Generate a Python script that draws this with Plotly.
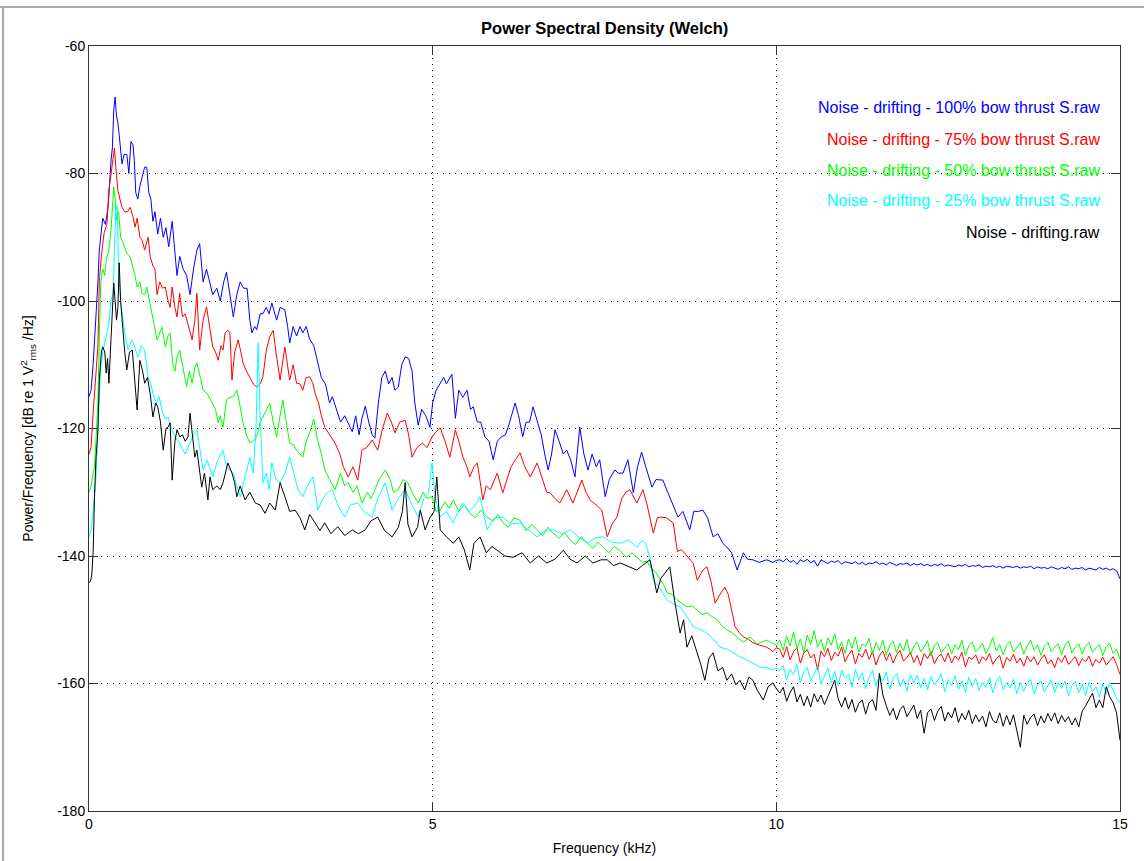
import plotly.graph_objects as go

# Welch PSD estimates below 10 kHz, (frequency kHz, dB re 1 V^2_rms/Hz)
psd_100 = [
    (0.00, -115), (0.03, -114), (0.06, -110), (0.10, -103), (0.13, -97), (0.15, -92), (0.18, -89),
    (0.20, -87), (0.24, -88), (0.28, -85), (0.32, -78), (0.34, -76), (0.36, -70), (0.38, -68),
    (0.40, -71), (0.42, -72), (0.44, -74), (0.46, -76), (0.48, -78.5), (0.51, -77), (0.55, -77),
    (0.58, -80), (0.61, -75), (0.64, -75.5), (0.66, -78), (0.68, -83), (0.71, -84), (0.74, -82),
    (0.78, -80), (0.81, -79), (0.84, -79), (0.87, -83), (0.90, -84), (0.93, -87.5), (0.96, -86),
    (1.00, -89.5), (1.04, -87), (1.08, -90), (1.12, -88.5), (1.16, -91.5), (1.21, -87.5), (1.25, -92),
    (1.28, -96), (1.32, -93), (1.37, -95), (1.42, -96), (1.47, -99), (1.52, -95), (1.57, -92),
    (1.61, -91), (1.66, -97), (1.71, -95), (1.76, -97), (1.80, -99), (1.86, -98), (1.91, -100),
    (1.96, -97), (2.00, -95.5), (2.05, -99), (2.10, -102.5), (2.15, -99), (2.20, -97), (2.25, -98),
    (2.30, -98), (2.34, -103), (2.37, -105), (2.41, -104), (2.44, -104.5), (2.49, -102), (2.53, -102),
    (2.58, -101), (2.62, -102), (2.66, -100.3), (2.70, -102), (2.73, -103), (2.78, -101), (2.85, -101.4),
    (2.89, -104), (2.92, -106.6), (2.97, -104), (3.02, -105.5), (3.07, -104), (3.11, -105), (3.16, -104),
    (3.21, -106), (3.27, -107), (3.33, -109.5), (3.38, -112), (3.44, -113), (3.50, -116), (3.54, -115),
    (3.60, -117), (3.66, -119), (3.72, -118), (3.78, -119.5), (3.83, -120.5), (3.88, -118), (3.93, -121),
    (3.97, -118.5), (4.02, -116.5), (4.07, -119), (4.12, -121), (4.16, -121.5), (4.21, -116), (4.26, -112),
    (4.31, -111), (4.36, -113), (4.41, -112), (4.45, -114), (4.50, -113.5), (4.55, -110), (4.60, -108.8),
    (4.65, -109), (4.70, -111), (4.74, -116), (4.79, -119.5), (4.84, -117), (4.90, -118), (4.96, -119.8),
    (5.00, -116), (5.05, -114), (5.11, -113), (5.16, -112), (5.20, -113), (5.25, -112), (5.28, -111.5),
    (5.33, -118.4), (5.38, -114), (5.44, -115.1), (5.50, -114), (5.55, -117), (5.59, -116.6), (5.65, -119),
    (5.70, -119), (5.76, -121.3), (5.82, -122), (5.88, -124.9), (5.94, -122), (6.00, -121.3), (6.06, -121),
    (6.12, -119), (6.20, -116), (6.25, -118), (6.31, -121.3), (6.36, -119), (6.41, -119), (6.46, -116.6),
    (6.52, -119), (6.58, -121), (6.63, -124), (6.68, -126.5), (6.73, -124), (6.78, -120.2), (6.84, -122),
    (6.90, -124), (6.95, -123.4), (7.01, -125), (7.07, -127.6), (7.14, -119.8), (7.20, -124), (7.26, -126.5),
    (7.32, -124), (7.38, -126), (7.43, -124.9), (7.51, -130.7), (7.57, -128), (7.65, -126.5), (7.70, -127),
    (7.77, -127), (7.84, -124.9), (7.92, -130.1), (7.98, -126), (8.04, -123.7), (8.10, -126), (8.19, -129.2),
    (8.25, -128), (8.35, -128.1), (8.42, -130), (8.50, -132), (8.57, -133.9), (8.64, -133), (8.74, -135.9),
    (8.80, -133), (8.87, -133), (8.93, -132.8), (9.00, -134), (9.08, -137), (9.15, -136.5), (9.22, -138),
    (9.28, -138.6), (9.35, -139.5), (9.43, -142.2), (9.47, -141), (9.52, -139.5), (9.58, -140.5),
    (9.66, -140.6), (9.75, -141), (9.86, -140.6), (9.95, -141), (10.0, -140.7),
]

psd_75 = [
    (0.00, -124), (0.03, -123), (0.06, -117.6), (0.10, -112), (0.13, -107), (0.15, -97), (0.18, -93),
    (0.22, -89.3), (0.26, -88), (0.29, -82.6), (0.32, -80), (0.35, -76.8), (0.37, -76), (0.39, -79),
    (0.42, -82.6), (0.45, -84), (0.48, -85.3), (0.52, -86), (0.56, -86), (0.60, -85.3), (0.64, -86.8),
    (0.67, -88.4), (0.70, -87), (0.74, -90), (0.77, -90.4), (0.81, -92), (0.86, -90), (0.89, -93),
    (0.93, -94.5), (0.96, -95), (0.99, -99), (1.03, -97), (1.07, -98), (1.11, -97.8), (1.15, -100),
    (1.18, -101), (1.21, -97.8), (1.25, -101), (1.28, -102.5), (1.32, -98.8), (1.36, -102.5), (1.40, -102),
    (1.45, -104), (1.50, -106.1), (1.54, -103), (1.57, -98.8), (1.61, -107.7), (1.66, -103), (1.71, -100.9),
    (1.75, -104), (1.80, -107.2), (1.84, -108), (1.88, -109.3), (1.92, -107), (1.95, -107.7), (1.98, -105),
    (2.02, -104.6), (2.05, -105), (2.08, -112.4), (2.12, -108), (2.17, -106.1), (2.21, -108), (2.24, -109.7),
    (2.29, -111), (2.34, -111.9), (2.39, -113), (2.44, -113.5), (2.49, -113), (2.53, -111.9), (2.58, -107.7),
    (2.63, -105.6), (2.68, -104.6), (2.72, -108), (2.78, -112.4), (2.85, -107.2), (2.89, -110), (2.92, -112.4),
    (2.97, -110), (3.02, -112.9), (3.07, -113), (3.11, -114), (3.16, -112), (3.21, -111.9), (3.26, -113),
    (3.29, -114.5), (3.34, -116), (3.38, -118), (3.43, -119.8), (3.50, -121), (3.58, -122.3), (3.65, -124),
    (3.70, -126), (3.77, -127.6), (3.84, -126), (3.91, -128.1), (3.97, -123.4), (4.04, -123), (4.12, -121.8),
    (4.20, -123.4), (4.27, -120), (4.34, -117.6), (4.40, -119), (4.45, -120.7), (4.52, -119), (4.60, -118.7),
    (4.65, -121), (4.70, -124.5), (4.77, -123), (4.85, -122.3), (4.92, -123), (4.99, -121.3), (5.05, -120.5),
    (5.11, -119.9), (5.18, -122), (5.25, -124.5), (5.33, -120.2), (5.38, -122), (5.44, -124.5), (5.50, -126),
    (5.54, -127.6), (5.60, -126), (5.65, -125.4), (5.73, -131.2), (5.78, -129), (5.84, -129.6), (5.94, -127),
    (6.02, -130.1), (6.08, -128), (6.14, -126), (6.20, -125), (6.27, -123.8), (6.34, -126), (6.42, -127.6),
    (6.52, -125.4), (6.60, -128), (6.66, -130), (6.71, -130.1), (6.78, -131), (6.85, -131.7), (6.95, -129.6),
    (7.04, -131.7), (7.10, -130), (7.17, -128.1), (7.23, -130), (7.29, -131.2), (7.38, -132), (7.46, -132.8),
    (7.54, -137), (7.61, -135), (7.68, -133.9), (7.75, -131), (7.81, -130), (7.87, -129.6), (7.97, -131.7),
    (8.06, -129.6), (8.12, -132), (8.16, -133.9), (8.21, -136.4), (8.27, -134), (8.31, -133.9), (8.40, -134),
    (8.50, -134.8), (8.56, -139.3), (8.62, -139), (8.70, -140), (8.79, -141.1), (8.85, -143.8), (8.93, -142.2),
    (8.99, -141.7), (9.05, -144), (9.11, -147.4), (9.18, -146), (9.25, -144.9), (9.30, -146), (9.35, -148.5),
    (9.40, -151.1), (9.46, -152), (9.52, -152.7), (9.59, -153), (9.66, -153.6), (9.76, -154), (9.86, -154.3),
    (9.95, -155), (10.0, -154.4),
]

psd_50 = [
    (0.00, -130), (0.03, -129), (0.06, -127), (0.08, -126), (0.11, -120), (0.13, -115.5), (0.15, -106),
    (0.17, -97.2), (0.20, -95), (0.23, -96), (0.25, -93.6), (0.29, -92), (0.32, -88.9), (0.34, -86),
    (0.36, -82.1), (0.38, -84), (0.40, -87.3), (0.43, -86), (0.46, -90), (0.50, -91), (0.55, -92.5),
    (0.60, -93.1), (0.64, -94.7), (0.67, -96), (0.70, -97.8), (0.74, -97), (0.77, -98.8), (0.81, -99),
    (0.84, -97.8), (0.88, -100), (0.92, -102), (0.96, -104), (0.99, -106.1), (1.03, -105), (1.06, -104.1),
    (1.11, -107.2), (1.15, -105.5), (1.18, -105), (1.22, -110), (1.25, -111), (1.28, -108.8), (1.32, -107.7),
    (1.36, -110), (1.42, -113.5), (1.46, -111), (1.50, -112.9), (1.54, -110.5), (1.57, -109.7), (1.62, -112),
    (1.66, -114), (1.72, -114.5), (1.79, -116), (1.84, -117), (1.88, -119.1), (1.91, -118), (1.95, -119.8),
    (2.00, -115.5), (2.05, -115.1), (2.10, -115), (2.15, -114), (2.19, -116), (2.24, -119.1), (2.29, -121),
    (2.34, -122.3), (2.39, -122), (2.44, -121.3), (2.49, -119), (2.53, -118.2), (2.58, -117), (2.63, -116),
    (2.68, -119), (2.73, -121.3), (2.78, -118), (2.82, -115.5), (2.87, -119), (2.92, -122.3), (2.97, -122.5),
    (3.02, -123.4), (3.07, -124), (3.11, -124.5), (3.16, -122), (3.21, -120.7), (3.27, -118.5), (3.32, -121.5),
    (3.38, -124), (3.43, -126.5), (3.50, -128), (3.58, -129.6), (3.66, -127), (3.72, -129), (3.77, -128.5),
    (3.84, -130), (3.90, -129), (3.97, -131.7), (4.05, -130), (4.10, -131), (4.16, -129.6), (4.22, -128),
    (4.31, -126.5), (4.38, -128), (4.43, -130), (4.50, -129.6), (4.57, -128), (4.64, -128.5), (4.70, -130),
    (4.79, -131.7), (4.86, -130), (4.92, -131), (4.99, -130.7), (5.05, -133), (5.11, -132.8), (5.18, -131.5),
    (5.24, -132.5), (5.30, -131.2), (5.38, -133), (5.46, -132), (5.54, -133.3), (5.62, -134), (5.70, -132.8),
    (5.79, -133.9), (5.88, -134.5), (5.95, -133.5), (6.02, -134.8), (6.10, -135.5), (6.18, -134), (6.27, -134.4),
    (6.36, -136), (6.44, -135), (6.52, -135.9), (6.60, -136.8), (6.68, -135.5), (6.75, -136.4), (6.84, -137.2),
    (6.92, -136.3), (7.00, -137.5), (7.08, -138.2), (7.16, -137), (7.25, -138), (7.33, -138.8), (7.40, -137.8),
    (7.48, -138.6), (7.56, -139.5), (7.64, -138.5), (7.73, -139.2), (7.82, -140.2), (7.90, -139.5),
    (7.97, -140.2), (8.05, -141), (8.12, -140.8), (8.16, -141.7), (8.24, -142.5), (8.31, -143.8),
    (8.36, -144.5), (8.41, -145.8), (8.48, -146), (8.56, -146.9), (8.63, -147.5), (8.70, -148),
    (8.78, -147.8), (8.85, -148.5), (8.92, -149.2), (8.99, -148.9), (9.06, -149.5), (9.14, -150),
    (9.21, -151), (9.28, -151.6), (9.35, -152), (9.43, -152.7), (9.52, -153.5), (9.62, -152.7),
    (9.72, -153.8), (9.86, -153.2), (10.0, -154),
]

psd_25 = [
    (0.00, -137), (0.03, -136), (0.06, -133), (0.10, -128), (0.13, -120), (0.17, -110.8), (0.20, -108),
    (0.24, -106), (0.29, -103.5), (0.32, -100), (0.35, -98.8), (0.37, -92), (0.39, -86), (0.41, -85),
    (0.43, -95), (0.46, -100), (0.49, -102.5), (0.52, -105), (0.57, -107.7), (0.62, -106.1), (0.66, -107),
    (0.71, -108.8), (0.76, -107), (0.81, -107.7), (0.86, -111.9), (0.90, -113), (0.93, -114.5), (0.98, -116),
    (1.02, -115), (1.06, -117.1), (1.11, -118.5), (1.15, -118.2), (1.20, -120), (1.25, -121.3), (1.30, -122),
    (1.35, -123), (1.40, -124), (1.47, -122.3), (1.52, -121), (1.57, -120.2), (1.62, -124), (1.66, -126.5),
    (1.72, -125), (1.80, -127.6), (1.87, -125), (1.95, -123.4), (2.00, -126), (2.05, -126.5), (2.10, -127),
    (2.15, -129), (2.20, -130.7), (2.26, -128), (2.34, -124.5), (2.39, -127), (2.43, -120), (2.46, -106.6),
    (2.49, -118), (2.53, -128.5), (2.58, -127), (2.62, -129.6), (2.66, -125.4), (2.72, -128), (2.78, -128.5),
    (2.85, -127), (2.92, -124.5), (2.98, -127), (3.04, -129.6), (3.11, -130.7), (3.18, -129), (3.26, -127.6),
    (3.33, -132.8), (3.40, -131), (3.47, -130), (3.54, -129.6), (3.62, -132), (3.72, -133.9), (3.80, -132),
    (3.91, -131.7), (4.00, -133), (4.12, -133.9), (4.20, -131), (4.31, -128.5), (4.41, -132.8), (4.50, -131),
    (4.60, -129.6), (4.70, -132), (4.79, -133.9), (4.87, -131), (4.94, -130), (4.99, -125.4), (5.04, -131),
    (5.11, -133.9), (5.20, -133), (5.30, -134.8), (5.37, -133), (5.44, -131.7), (5.53, -133), (5.62, -132),
    (5.69, -130.7), (5.79, -135.9), (5.90, -134), (6.02, -133.9), (6.14, -135), (6.27, -134.8), (6.40, -136),
    (6.52, -137), (6.64, -136), (6.75, -135.9), (6.88, -136.5), (7.00, -135.9), (7.12, -137), (7.25, -138),
    (7.36, -137.2), (7.48, -137), (7.60, -137.8), (7.73, -138), (7.85, -137.5), (7.97, -138.6), (8.05, -137.5),
    (8.10, -138), (8.16, -140.2), (8.21, -143.8), (8.30, -145), (8.41, -146.9), (8.50, -147.5), (8.60, -148),
    (8.70, -149.5), (8.79, -151.1), (8.89, -151.5), (8.99, -152.1), (9.08, -153), (9.18, -154.3),
    (9.28, -154.6), (9.37, -155.2), (9.47, -155.8), (9.57, -156.3), (9.66, -156.8), (9.76, -157.4),
    (9.85, -157.5), (9.95, -157.9), (10.0, -157.6),
]

psd_ref = [
    (0.00, -144.2), (0.02, -144), (0.04, -143), (0.06, -139.5), (0.08, -130.7), (0.10, -125), (0.13, -120.2),
    (0.15, -112.4), (0.18, -108), (0.20, -107.2), (0.23, -108), (0.25, -111.3), (0.27, -109), (0.29, -112.9),
    (0.32, -106), (0.34, -102), (0.36, -97.2), (0.38, -100), (0.40, -103), (0.42, -101), (0.44, -94),
    (0.46, -100), (0.49, -104.1), (0.52, -108), (0.55, -110.8), (0.59, -108), (0.63, -107.7), (0.66, -112),
    (0.70, -117.1), (0.74, -109.3), (0.78, -111), (0.81, -112.9), (0.85, -112), (0.89, -114.5), (0.93, -118.2),
    (0.97, -116), (1.00, -116.6), (1.04, -119), (1.08, -123.4), (1.12, -120), (1.15, -119.8), (1.18, -119.1),
    (1.21, -128.1), (1.25, -122), (1.28, -120.2), (1.32, -121.3), (1.36, -121), (1.40, -122), (1.44, -121.3),
    (1.47, -117.6), (1.50, -121), (1.54, -124.5), (1.57, -123.4), (1.61, -127), (1.64, -129.2), (1.68, -127),
    (1.73, -131.2), (1.76, -127.6), (1.80, -129.6), (1.86, -129), (1.91, -129.6), (1.95, -128.5),
    (2.02, -125.4), (2.08, -127), (2.12, -128.5), (2.15, -130.7), (2.20, -129), (2.27, -131.2), (2.34, -130),
    (2.42, -131.7), (2.49, -132), (2.56, -133.3), (2.63, -131.7), (2.71, -132.8), (2.78, -128.5),
    (2.85, -130.7), (2.92, -133), (3.00, -132.8), (3.07, -134), (3.14, -135.9), (3.21, -133.5),
    (3.29, -134.8), (3.36, -136), (3.43, -134.8), (3.52, -136.5), (3.62, -135.4), (3.72, -136.8),
    (3.83, -135.9), (3.92, -136.5), (4.02, -135.9), (4.10, -134.5), (4.20, -133.9), (4.30, -136),
    (4.41, -137), (4.50, -135.5), (4.56, -133), (4.60, -128.5), (4.64, -135), (4.70, -137), (4.78, -135.5),
    (4.82, -132.8), (4.89, -135.9), (4.96, -134), (5.02, -133), (5.06, -127.6), (5.11, -135.9), (5.20, -137),
    (5.30, -138), (5.38, -137), (5.46, -139), (5.54, -142.2), (5.60, -138), (5.69, -137), (5.78, -139.5),
    (5.86, -138.5), (5.94, -139.1), (6.05, -140), (6.17, -140.2), (6.30, -139.5), (6.42, -141.1),
    (6.54, -140), (6.66, -141.1), (6.78, -140.5), (6.90, -139.1), (7.00, -140.5), (7.10, -141.1),
    (7.22, -140), (7.33, -141.1), (7.45, -140.6), (7.54, -140.6), (7.63, -141.5), (7.73, -141.1),
    (7.85, -141.7), (7.97, -142.2), (8.05, -141.5), (8.16, -140.6), (8.21, -143), (8.26, -145.8),
    (8.32, -143.5), (8.40, -142.5), (8.45, -141.7), (8.52, -147), (8.60, -152.1), (8.65, -150),
    (8.70, -154.3), (8.77, -152.5), (8.85, -155.2), (8.90, -157), (8.96, -159.5), (9.02, -156),
    (9.08, -155.2), (9.15, -158), (9.22, -157.5), (9.28, -159.5), (9.35, -158.5), (9.41, -160.2),
    (9.47, -159.5), (9.54, -161), (9.60, -159), (9.66, -159.5), (9.72, -161), (9.81, -162.6),
    (9.88, -160.5), (9.95, -159.9), (10.0, -160.8),
]

# 10.05 .. 15.00 kHz in 0.05 kHz bins: flat noise floor of each recording
tail_freq = [round(10.0 + 0.05 * k, 2) for k in range(1, 101)]

tail_100 = [
    -140.6, -140.9, -140.4, -141.0, -140.7, -141.3, -140.6, -140.9, -140.5, -141.1,
    -140.7, -141.6, -140.6, -140.9, -141.2, -140.8, -141.0, -140.7, -141.3, -140.9,
    -141.0, -141.2, -140.9, -141.3, -141.0, -141.4, -141.1, -141.2, -140.9, -141.3,
    -141.1, -141.4, -141.0, -141.3, -141.5, -141.2, -141.3, -141.1, -141.5, -141.2,
    -141.4, -141.2, -141.5, -141.3, -141.6, -141.3, -141.5, -141.2, -141.6, -141.4,
    -141.5, -141.7, -141.4, -141.6, -141.3, -141.7, -141.5, -141.6, -141.4, -141.8,
    -141.6, -141.7, -141.5, -141.8, -141.6, -141.9, -141.6, -141.7, -141.8, -141.6,
    -141.9, -141.7, -141.8, -141.6, -142.0, -141.7, -141.9, -141.8, -142.0, -141.7,
    -141.9, -142.1, -141.8, -142.0, -141.7, -142.1, -141.9, -142.0, -141.8, -142.2,
    -141.9, -142.0, -142.2, -141.8, -142.1, -141.9, -142.2, -142.0, -142.3, -143.6,
]

tail_75 = [
    -154.6, -155.9, -154.2, -156.3, -155.0, -154.4, -156.8, -155.2, -154.7, -156.0,
    -155.4, -157.9, -154.9, -155.8, -154.5, -156.4, -155.1, -155.7, -154.3, -156.6,
    -155.5, -154.8, -156.9, -155.3, -155.9, -154.6, -156.2, -155.0, -157.1, -155.6,
    -154.9, -156.4, -155.2, -156.8, -155.5, -154.8, -156.5, -155.9, -155.1, -156.7,
    -155.6, -157.2, -155.3, -156.1, -155.0, -156.9, -155.8, -155.4, -156.6, -155.2,
    -156.8, -155.7, -156.3, -155.1, -157.4, -155.9, -156.2, -155.5, -156.9, -155.8,
    -156.4, -155.3, -157.0, -156.1, -155.6, -157.6, -155.9, -156.5, -155.4, -156.8,
    -156.0, -157.3, -155.7, -156.6, -155.8, -157.1, -156.2, -155.5, -156.9, -156.3,
    -157.5, -155.9, -156.7, -155.6, -157.0, -156.4, -155.8, -157.2, -156.1, -156.6,
    -155.7, -157.3, -156.2, -156.8, -155.9, -157.1, -156.4, -155.8, -157.0, -158.6,
]

tail_50 = [
    -153.2, -154.8, -152.6, -154.1, -151.9, -154.6, -153.0, -155.2, -152.4, -153.9,
    -151.7, -154.3, -153.1, -155.0, -152.8, -154.0, -152.2, -154.7, -153.5, -155.3,
    -153.0, -154.5, -152.7, -155.1, -153.8, -154.2, -152.9, -155.4, -153.6, -154.8,
    -153.2, -155.6, -154.0, -153.4, -155.2, -153.7, -154.9, -153.1, -155.5, -154.2,
    -153.5, -155.0, -154.3, -153.3, -155.7, -154.0, -153.6, -155.2, -154.4, -153.8,
    -155.4, -153.9, -154.7, -153.2, -155.6, -154.1, -153.5, -155.0, -154.5, -153.7,
    -155.3, -154.2, -152.8, -154.9, -153.9, -155.5, -154.0, -153.4, -155.1, -154.3,
    -153.6, -155.4, -154.1, -153.2, -154.8, -153.9, -155.6, -154.2, -153.5, -155.0,
    -154.4, -153.7, -155.5, -154.0, -153.3, -155.2, -154.3, -153.8, -155.4, -154.1,
    -153.6, -155.1, -154.4, -153.9, -155.6, -154.2, -153.7, -155.3, -154.6, -156.2,
]

tail_25 = [
    -158.0, -157.2, -159.4, -157.8, -158.6, -157.0, -159.8, -158.2, -157.5, -159.6,
    -158.4, -157.3, -160.1, -158.7, -157.6, -159.9, -158.1, -160.3, -157.9, -159.2,
    -158.5, -160.6, -157.8, -159.4, -158.3, -160.8, -159.0, -157.9, -160.4, -158.8,
    -159.6, -158.2, -160.9, -159.1, -158.4, -160.5, -159.3, -161.2, -158.6, -159.9,
    -158.7, -160.7, -159.2, -161.0, -158.9, -160.2, -159.5, -158.5, -161.3, -159.4,
    -160.3, -158.8, -160.9, -159.6, -161.4, -159.0, -160.5, -159.2, -161.1, -159.8,
    -160.6, -159.1, -161.5, -159.7, -158.9, -161.0, -159.9, -160.7, -159.3, -161.6,
    -159.8, -161.2, -160.0, -159.4, -161.7, -160.2, -159.6, -161.3, -160.4, -159.5,
    -161.4, -159.9, -160.8, -159.6, -162.0, -160.3, -159.7, -161.5, -160.1, -161.9,
    -159.8, -161.3, -160.5, -162.1, -160.0, -161.6, -159.9, -161.2, -162.3, -163.0,
]

tail_ref = [
    -161.5, -160.6, -162.8, -161.4, -160.5, -162.9, -161.7, -163.5, -162.0, -163.7,
    -161.6, -162.9, -161.8, -163.3, -162.1, -160.8, -159.5, -162.4, -163.7, -162.2,
    -164.0, -162.5, -164.5, -163.1, -162.6, -164.8, -163.0, -162.5, -164.2, -158.4,
    -161.8, -163.5, -165.0, -163.9, -165.7, -164.1, -163.5, -165.2, -164.4, -163.4,
    -165.5, -164.2, -167.8, -164.6, -164.0, -165.8, -164.3, -163.6, -165.9, -164.5,
    -165.4, -163.8, -166.1, -164.7, -165.7, -164.2, -166.3, -164.9, -166.0, -165.1,
    -166.8, -164.4, -165.8, -166.2, -164.6, -166.7, -165.0, -166.5, -164.9, -167.2,
    -170.0, -165.0, -166.4, -165.3, -164.8, -166.6, -165.1, -166.2, -164.7, -165.9,
    -164.6, -166.3, -165.0, -166.0, -165.2, -166.5, -165.4, -166.8, -164.3, -163.5,
    -162.4, -161.5, -163.8, -162.6, -163.8, -160.5, -162.1, -163.0, -164.6, -168.9,
]

series_names = [
    "Noise - drifting - 100% bow thrust S.raw",
    "Noise - drifting - 75% bow thrust S.raw",
    "Noise - drifting - 50% bow thrust S.raw",
    "Noise - drifting - 25% bow thrust S.raw",
    "Noise - drifting.raw",
]
series_low = [psd_100, psd_75, psd_50, psd_25, psd_ref]
series_tail = [tail_100, tail_75, tail_50, tail_25, tail_ref]
series_colors = ["#0000ff", "#ff0000", "#00ff00", "#00ffff", "#000000"]
legend_levels = [-69.7, -74.6, -79.5, -84.2, -89.2]

x_ticks = [0, 5, 10, 15]
y_ticks = [-180, -160, -140, -120, -100, -80, -60]

FONT = "Liberation Sans, Arial, sans-serif"

fig = go.Figure()
for name, low, tail, color in zip(series_names, series_low, series_tail, series_colors):
    f, p = zip(*low)
    fig.add_trace(go.Scatter(x=list(f) + tail_freq, y=list(p) + tail, mode="lines", name=name,
                             line=dict(color=color, width=1), showlegend=False))

# colored text legend in the upper right corner
for name, color, lvl in zip(series_names, series_colors, legend_levels):
    fig.add_annotation(x=14.74, y=lvl, xref="x", yref="y", text=name, showarrow=False,
                       xanchor="right", yanchor="middle",
                       font=dict(family=FONT, size=16, color=color))

axis_common = dict(
    showline=True, linecolor="#333333", linewidth=1, mirror="ticks",
    ticks="inside", ticklen=9, tickcolor="#333333", tickwidth=1,
    showgrid=True, gridcolor="#000000", gridwidth=1, griddash="1px,5px",
    zeroline=False, automargin=False,
    tickfont=dict(family=FONT, size=14, color="#000000"),
)

fig.update_xaxes(range=[0, 15], tickvals=x_ticks, ticktext=[str(v) for v in x_ticks],
                 title=dict(text="Frequency (kHz)", font=dict(family=FONT, size=14, color="#000"),
                            standoff=12),
                 **axis_common)
fig.update_yaxes(range=[-180, -60], tickvals=y_ticks, ticktext=[str(v) for v in y_ticks],
                 title=dict(text="Power/Frequency [dB re 1 V<sup>2</sup><sub>rms</sub> /Hz]",
                            font=dict(family=FONT, size=14, color="#000"), standoff=20),
                 **axis_common)

# window frame around the figure
fig.add_shape(type="line", xref="paper", yref="paper", x0=-0.09, x1=1.03, y0=1.051, y1=1.051,
              line=dict(color="#a8a8a8", width=2))
fig.add_shape(type="line", xref="paper", yref="paper", x0=-0.0834, x1=-0.0834, y0=-0.07, y1=1.051,
              line=dict(color="#a8a8a8", width=2))

fig.update_layout(
    width=1144, height=861,
    margin=dict(l=89, r=24, t=46, b=50),
    paper_bgcolor="#ffffff", plot_bgcolor="#ffffff",
    title=dict(text="<b>Power Spectral Density (Welch)</b>", x=0.5286, xanchor="center",
               y=0.967, yanchor="middle", font=dict(family=FONT, size=16.5, color="#000")),
)

fig.write_html("out.html")
